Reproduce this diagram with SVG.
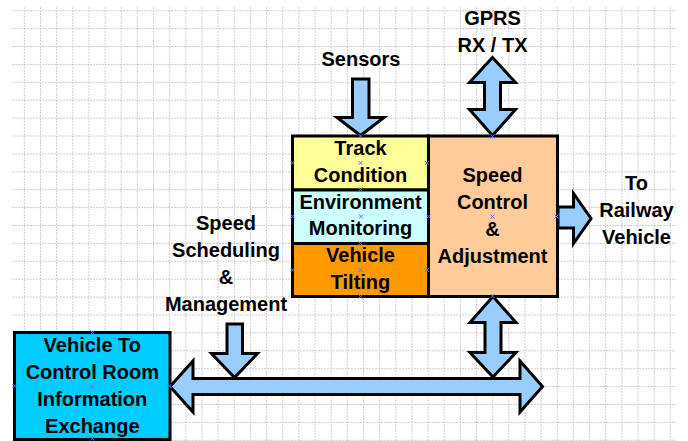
<svg xmlns="http://www.w3.org/2000/svg" width="688" height="441" viewBox="0 0 688 441">
<defs>
<style>
.grid line{stroke:#cdcdcd;stroke-width:1;stroke-dasharray:2,1}
.box{stroke:#000;stroke-width:3}
.arrow{fill:#99ccff;stroke:#000;stroke-width:3;stroke-linejoin:miter}
text{font-family:"Liberation Sans",Arial,sans-serif;font-weight:bold;font-size:20px;fill:#000;text-anchor:middle}
.cp{stroke:#6a6aff;stroke-width:1;fill:none}
</style>
<path id="xm" d="M-2,-2 L2,2 M-2,2 L2,-2"/>
</defs>
<rect width="688" height="441" fill="#fff"/>
<g class="grid" id="grid">
<line x1="12" y1="10.7" x2="676" y2="10.7"/><line x1="12" y1="28.6" x2="676" y2="28.6"/><line x1="12" y1="46.5" x2="676" y2="46.5"/><line x1="12" y1="64.4" x2="676" y2="64.4"/><line x1="12" y1="82.3" x2="676" y2="82.3"/><line x1="12" y1="100.2" x2="676" y2="100.2"/><line x1="12" y1="118.1" x2="676" y2="118.1"/><line x1="12" y1="136" x2="676" y2="136"/><line x1="12" y1="153.9" x2="676" y2="153.9"/><line x1="12" y1="171.8" x2="676" y2="171.8"/><line x1="12" y1="189.7" x2="676" y2="189.7"/><line x1="12" y1="207.6" x2="676" y2="207.6"/><line x1="12" y1="225.5" x2="676" y2="225.5"/><line x1="12" y1="243.4" x2="676" y2="243.4"/><line x1="12" y1="261.3" x2="676" y2="261.3"/><line x1="12" y1="279.2" x2="676" y2="279.2"/><line x1="12" y1="297.1" x2="676" y2="297.1"/><line x1="12" y1="315" x2="676" y2="315"/><line x1="12" y1="332.9" x2="676" y2="332.9"/><line x1="12" y1="350.8" x2="676" y2="350.8"/><line x1="12" y1="368.7" x2="676" y2="368.7"/><line x1="12" y1="386.6" x2="676" y2="386.6"/><line x1="12" y1="404.5" x2="676" y2="404.5"/><line x1="12" y1="422.4" x2="676" y2="422.4"/><line x1="12" y1="440.3" x2="676" y2="440.3"/>
<line x1="24.3" y1="7" x2="24.3" y2="441"/><line x1="40.5" y1="7" x2="40.5" y2="441"/><line x1="56.6" y1="7" x2="56.6" y2="441"/><line x1="72.8" y1="7" x2="72.8" y2="441"/><line x1="88.9" y1="7" x2="88.9" y2="441"/><line x1="105.1" y1="7" x2="105.1" y2="441"/><line x1="121.2" y1="7" x2="121.2" y2="441"/><line x1="137.4" y1="7" x2="137.4" y2="441"/><line x1="153.5" y1="7" x2="153.5" y2="441"/><line x1="169.7" y1="7" x2="169.7" y2="441"/><line x1="185.8" y1="7" x2="185.8" y2="441"/><line x1="202" y1="7" x2="202" y2="441"/><line x1="218.1" y1="7" x2="218.1" y2="441"/><line x1="234.3" y1="7" x2="234.3" y2="441"/><line x1="250.4" y1="7" x2="250.4" y2="441"/><line x1="266.6" y1="7" x2="266.6" y2="441"/><line x1="282.7" y1="7" x2="282.7" y2="441"/><line x1="298.9" y1="7" x2="298.9" y2="441"/><line x1="315" y1="7" x2="315" y2="441"/><line x1="331.2" y1="7" x2="331.2" y2="441"/><line x1="347.3" y1="7" x2="347.3" y2="441"/><line x1="363.5" y1="7" x2="363.5" y2="441"/><line x1="379.6" y1="7" x2="379.6" y2="441"/><line x1="395.8" y1="7" x2="395.8" y2="441"/><line x1="411.9" y1="7" x2="411.9" y2="441"/><line x1="428.1" y1="7" x2="428.1" y2="441"/><line x1="444.2" y1="7" x2="444.2" y2="441"/><line x1="460.4" y1="7" x2="460.4" y2="441"/><line x1="476.5" y1="7" x2="476.5" y2="441"/><line x1="492.7" y1="7" x2="492.7" y2="441"/><line x1="508.8" y1="7" x2="508.8" y2="441"/><line x1="525" y1="7" x2="525" y2="441"/><line x1="541.1" y1="7" x2="541.1" y2="441"/><line x1="557.3" y1="7" x2="557.3" y2="441"/><line x1="573.4" y1="7" x2="573.4" y2="441"/><line x1="589.6" y1="7" x2="589.6" y2="441"/><line x1="605.7" y1="7" x2="605.7" y2="441"/><line x1="621.9" y1="7" x2="621.9" y2="441"/><line x1="638" y1="7" x2="638" y2="441"/><line x1="654.2" y1="7" x2="654.2" y2="441"/><line x1="670.3" y1="7" x2="670.3" y2="441"/>
</g>

<g id="connectors">
<path class="arrow" d="M352.5,79 H369 V117.5 H384 L360.5,135.5 L337,117.5 H352.5 Z"/>
<path class="arrow" d="M492.5,57.5 L515.5,82.5 H500.5 V109.5 H515.5 L492.5,135.5 L469.5,109.5 H484.5 V82.5 H469.5 Z"/>
<path class="arrow" d="M558,207 H573.5 V193.5 L591,218.5 L573.5,243.5 V228 H558 Z"/>
<path class="arrow" d="M170,386.5 L193,361 V378.5 H520 V361 L542.5,386.5 L520,412 V394.5 H193 V412 Z"/>
<path class="arrow" d="M227,324 H242.5 V353.5 H257.5 L234.5,377.5 L211.5,353.5 H227 Z"/>
<path class="arrow" d="M493,296.5 L516,322.5 H501 V352.5 H516 L493,377 L470,352.5 H485 V322.5 H470 Z"/>
</g>

<g id="track-condition">
<rect class="box" x="292.5" y="136" width="136" height="54" fill="#ffff99"/>
<text x="360.5" y="155">Track</text>
<text x="360.5" y="182">Condition</text>
</g>
<g id="environment-monitoring">
<rect class="box" x="292.5" y="190" width="136" height="53.5" fill="#ccffff"/>
<text x="360.5" y="208.5">Environment</text>
<text x="360.5" y="235">Monitoring</text>
</g>
<g id="vehicle-tilting">
<rect class="box" x="292.5" y="243.5" width="136" height="53" fill="#ff9900"/>
<text x="360.5" y="261.5">Vehicle</text>
<text x="360.5" y="288.5">Tilting</text>
</g>
<g id="speed-control">
<rect class="box" x="428.5" y="136" width="129" height="160.5" fill="#ffcc99"/>
<text x="492.5" y="181.5">Speed</text>
<text x="492.5" y="209">Control</text>
<text x="492.5" y="236">&amp;</text>
<text x="492.5" y="263">Adjustment</text>
</g>
<g id="vehicle-control-room">
<rect class="box" x="14.5" y="332.5" width="155.5" height="107" fill="#00ccff"/>
<text x="92.3" y="351.5">Vehicle To</text>
<text x="92.3" y="378.5">Control Room</text>
<text x="92.3" y="405.5">Information</text>
<text x="92.3" y="432.5">Exchange</text>
</g>
<g id="sensors">
<text x="361" y="66">Sensors</text>
</g>
<g id="gprs">
<text x="492.5" y="24.5">GPRS</text>
<text x="492.5" y="51.5">RX / TX</text>
</g>
<g id="to-railway-vehicle">
<text x="636.5" y="190">To</text>
<text x="636.5" y="217">Railway</text>
<text x="636.5" y="244">Vehicle</text>
</g>
<g id="speed-scheduling">
<text x="226" y="229.5">Speed</text>
<text x="226" y="256.5">Scheduling</text>
<text x="226" y="283.5">&amp;</text>
<text x="226" y="310.5">Management</text>
</g>
<g id="connection-points" class="cp">
<use href="#xm" x="360.5" y="136"/><use href="#xm" x="292.5" y="163"/><use href="#xm" x="360.5" y="163"/><use href="#xm" x="427" y="163"/><use href="#xm" x="360.5" y="189.5"/><use href="#xm" x="292.5" y="216.5"/><use href="#xm" x="361" y="216.5"/><use href="#xm" x="428.5" y="216.5"/><use href="#xm" x="492.5" y="216.5"/><use href="#xm" x="556.5" y="216.5"/><use href="#xm" x="360.5" y="243.5"/><use href="#xm" x="292.5" y="270"/><use href="#xm" x="360.5" y="270"/><use href="#xm" x="427" y="270"/><use href="#xm" x="360.5" y="296.5"/><use href="#xm" x="492.5" y="136.5"/><use href="#xm" x="492.5" y="296"/><use href="#xm" x="92.3" y="332.5"/><use href="#xm" x="14.5" y="386"/><use href="#xm" x="92.3" y="386.5"/><use href="#xm" x="169.5" y="386"/><use href="#xm" x="92.3" y="438.5"/>
</g>
</svg>
